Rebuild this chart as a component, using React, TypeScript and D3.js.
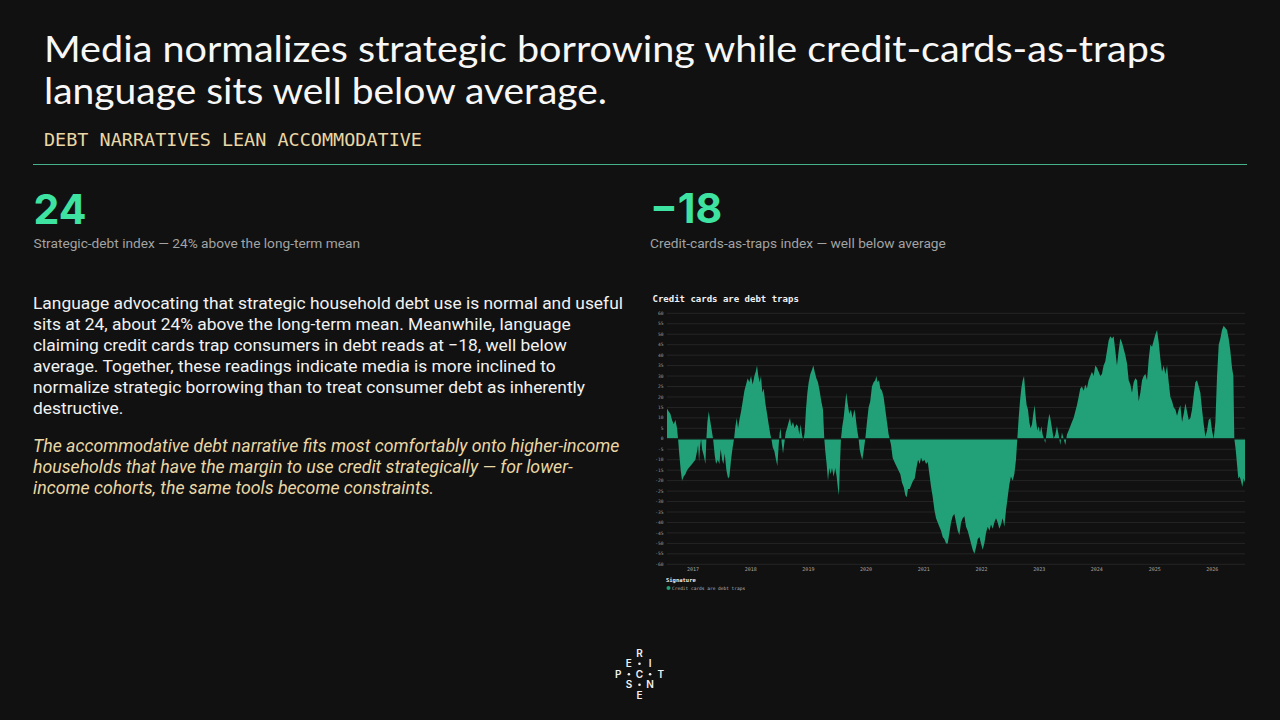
import React from "react";
import * as d3 from "d3";

// ---- Text content ----
const titleLines = [
  "Media normalizes strategic borrowing while credit-cards-as-traps",
  "language sits well below average.",
];
const kicker = "DEBT NARRATIVES LEAN ACCOMMODATIVE";
const statValues = ["24", "\u221218"];
const statLabels = [
  "Strategic-debt index \u2014 24% above the long-term mean",
  "Credit-cards-as-traps index \u2014 well below average",
];
const bodyLines = [
  "Language advocating that strategic household debt use is normal and useful",
  "sits at 24, about 24% above the long-term mean. Meanwhile, language",
  "claiming credit cards trap consumers in debt reads at \u221218, well below",
  "average. Together, these readings indicate media is more inclined to",
  "normalize strategic borrowing than to treat consumer debt as inherently",
  "destructive.",
];
const noteLines = [
  "The accommodative debt narrative fits most comfortably onto higher-income",
  "households that have the margin to use credit strategically \u2014 for lower-",
  "income cohorts, the same tools become constraints.",
];
const chartTitle = "Credit cards are debt traps";
const legendTitle = "Signature";
const seriesName = "Credit cards are debt traps";

// ---- Chart data (decimal years, index values) ----
const years = [
  2016.549, 2016.578, 2016.607, 2016.636, 2016.665, 2016.694, 2016.723, 2016.74, 2016.763, 2016.786,
  2016.809, 2016.838, 2016.867, 2016.896, 2016.925, 2016.954, 2016.983, 2017.012, 2017.04, 2017.069,
  2017.087, 2017.104, 2017.121, 2017.139, 2017.156, 2017.185, 2017.214, 2017.231, 2017.248, 2017.272,
  2017.295, 2017.318, 2017.347, 2017.376, 2017.399, 2017.428, 2017.456, 2017.479, 2017.503, 2017.526,
  2017.549, 2017.578, 2017.607, 2017.63, 2017.659, 2017.687, 2017.711, 2017.734, 2017.757, 2017.78,
  2017.803, 2017.832, 2017.861, 2017.89, 2017.919, 2017.947, 2017.976, 2018.005, 2018.034, 2018.063,
  2018.086, 2018.109, 2018.132, 2018.155, 2018.178, 2018.202, 2018.225, 2018.254, 2018.283, 2018.311,
  2018.34, 2018.358, 2018.381, 2018.41, 2018.438, 2018.462, 2018.485, 2018.502, 2018.519, 2018.537,
  2018.56, 2018.583, 2018.606, 2018.629, 2018.658, 2018.681, 2018.704, 2018.733, 2018.762, 2018.791,
  2018.82, 2018.843, 2018.866, 2018.889, 2018.912, 2018.935, 2018.958, 2018.982, 2019.005, 2019.034,
  2019.062, 2019.086, 2019.109, 2019.138, 2019.166, 2019.195, 2019.224, 2019.253, 2019.276, 2019.293,
  2019.316, 2019.34, 2019.363, 2019.386, 2019.409, 2019.438, 2019.467, 2019.49, 2019.513, 2019.53,
  2019.548, 2019.565, 2019.588, 2019.611, 2019.634, 2019.657, 2019.681, 2019.709, 2019.738, 2019.767,
  2019.796, 2019.813, 2019.842, 2019.871, 2019.889, 2019.912, 2019.935, 2019.958, 2019.987, 2020.016,
  2020.044, 2020.073, 2020.102, 2020.131, 2020.16, 2020.177, 2020.2, 2020.224, 2020.247, 2020.276,
  2020.304, 2020.333, 2020.362, 2020.391, 2020.408, 2020.432, 2020.46, 2020.489, 2020.524, 2020.559,
  2020.593, 2020.622, 2020.651, 2020.68, 2020.703, 2020.726, 2020.755, 2020.784, 2020.813, 2020.842,
  2020.871, 2020.9, 2020.928, 2020.951, 2020.98, 2021.009, 2021.038, 2021.067, 2021.096, 2021.125,
  2021.154, 2021.183, 2021.211, 2021.24, 2021.269, 2021.298, 2021.327, 2021.356, 2021.385, 2021.414,
  2021.443, 2021.471, 2021.5, 2021.529, 2021.558, 2021.587, 2021.616, 2021.645, 2021.674, 2021.703,
  2021.731, 2021.76, 2021.789, 2021.818, 2021.847, 2021.876, 2021.905, 2021.934, 2021.963, 2021.991,
  2022.02, 2022.049, 2022.078, 2022.107, 2022.136, 2022.165, 2022.194, 2022.222, 2022.251, 2022.28,
  2022.309, 2022.338, 2022.367, 2022.396, 2022.425, 2022.454, 2022.482, 2022.511, 2022.54, 2022.569,
  2022.598, 2022.621, 2022.644, 2022.667, 2022.69, 2022.714, 2022.737, 2022.76, 2022.783, 2022.806,
  2022.829, 2022.852, 2022.875, 2022.898, 2022.921, 2022.945, 2022.968, 2022.991, 2023.014, 2023.037,
  2023.06, 2023.083, 2023.106, 2023.129, 2023.152, 2023.176, 2023.193, 2023.222, 2023.251, 2023.28,
  2023.308, 2023.337, 2023.366, 2023.395, 2023.424, 2023.453, 2023.482, 2023.511, 2023.54, 2023.568,
  2023.597, 2023.626, 2023.655, 2023.684, 2023.713, 2023.742, 2023.771, 2023.8, 2023.828, 2023.857,
  2023.886, 2023.915, 2023.944, 2023.973, 2024.002, 2024.031, 2024.06, 2024.088, 2024.117, 2024.146,
  2024.175, 2024.204, 2024.233, 2024.262, 2024.291, 2024.32, 2024.348, 2024.377, 2024.406, 2024.435,
  2024.464, 2024.493, 2024.522, 2024.551, 2024.58, 2024.608, 2024.637, 2024.666, 2024.695, 2024.724,
  2024.753, 2024.782, 2024.811, 2024.84, 2024.868, 2024.897, 2024.926, 2024.955, 2024.984, 2025.013,
  2025.042, 2025.071, 2025.1, 2025.128, 2025.157, 2025.186, 2025.215, 2025.244, 2025.273, 2025.302,
  2025.331, 2025.36, 2025.388, 2025.417, 2025.446, 2025.475, 2025.504, 2025.533, 2025.562, 2025.591,
  2025.62, 2025.648, 2025.677, 2025.706, 2025.735, 2025.764, 2025.793, 2025.822, 2025.851, 2025.88,
  2025.908, 2025.937, 2025.966, 2025.995, 2026.024, 2026.053, 2026.082, 2026.111, 2026.14, 2026.168,
  2026.197, 2026.226, 2026.255, 2026.284, 2026.313, 2026.342, 2026.365, 2026.382, 2026.405, 2026.428,
  2026.451, 2026.474, 2026.497, 2026.52, 2026.544, 2026.567,
];
const values = [
  14.5, 13, 12, 9, 7, 9, 5, 0, -8, -15,
  -20, -18, -17, -15, -14, -13, -12, -11, -10, -6,
  -3, -11, -4, 0, -5, -8, -12, 0, 8, 13,
  9, 5, 0, -8, -12, -10, -12, -5, -10, -12,
  -7, -15, -19, -18, -10, -4, 0, 6, 10, 5,
  9, 13, 18, 23, 26, 29, 27, 30, 26, 30,
  32, 35, 30, 27, 30, 22, 24, 17, 12, 7,
  2, 0, -4, -6, -10, -13, -3, 3, 5, -2,
  -7, -2, 3, 5, 8, 10, 6, 8, 5, 7,
  6, 2, 7, 2, -1, 3, 14, 22, 27, 31,
  33, 35, 32, 29, 27, 23, 18, 14, 0, -6,
  -12, -20, -14, -17, -14, -18, -14, -18, -24, -27,
  -12, 0, 6, 10, 16, 22, 17, 12, 14, 10,
  14, 12, 5, 0, -5, -8, -10, -6, 0, 8,
  15, 18, 25, 27, 28, 30, 27, 28, 24, 23,
  20, 14, 8, 2, 0, -3, -9, -11, -13, -15,
  -17, -21, -23, -27, -28, -24, -24, -22, -20, -19,
  -14, -10, -12, -9, -11, -10, -12, -11, -17, -23,
  -28, -34, -38, -40, -42, -44, -47, -48, -50, -50,
  -45, -40, -37, -36, -40, -44, -46, -40, -38, -37,
  -42, -44, -47, -50, -53, -55, -52, -48, -47, -50,
  -53, -50, -45, -42, -44, -41, -43, -40, -38, -40,
  -43, -41, -38, -42, -34, -28, -22, -18, -20, -17,
  -10, 0, 10, 18, 24, 28, 30, 22, 16, 14,
  8, 5, 7, 12, 16, 9, 4, 6, 3, 6,
  2, 0, -2, 3, 8, 12, 10, 5, 0, 2,
  6, 2, -3, 3, 0, -3, 2, 4, 6, 8,
  10, 13, 16, 20, 24, 25, 23, 26, 24, 28,
  30, 32, 30, 35, 34, 32, 30, 31, 35, 37,
  42, 47, 49, 48, 49, 42, 35, 42, 48, 46,
  43, 40, 36, 28, 26, 22, 27, 29, 28, 18,
  22, 28, 30, 31, 28, 38, 45, 44, 47, 50,
  52, 46, 38, 32, 35, 31, 35, 27, 20, 18,
  15, 14, 11, 14, 16, 8, 12, 17, 13, 9,
  10, 14, 21, 27, 28, 25, 22, 14, 7, 1,
  4, 9, 10, 4, 0, 8, 30, 45, 48, 52,
  54, 53, 52, 48, 42, 34, 30, 0, -5, -12,
  -19, -18, -20, -23, -19, -21,
];
const yDomain = [-60, 60];
const yTickStep = 5;

const logoRows = [
  ["", "", "R", "", ""],
  ["", "E", "\u2022", "I", ""],
  ["P", "\u2022", "C", "\u2022", "T"],
  ["", "S", "\u2022", "N", ""],
  ["", "", "E", "", ""],
];

// ---- Styles ----
const BG = "#111111";
const GREEN = "#22a077";
const MINT = "#3ee3a2";
const TAN = "#e9d7a6";
const SANS = "Roboto, 'Noto Sans', sans-serif";
const MONO = "'DejaVu Sans Mono', 'Liberation Mono', monospace";

function toDate(t: number): Date {
  const y = Math.floor(t);
  const s = Date.UTC(y, 0, 1);
  const e = Date.UTC(y + 1, 0, 1);
  return new Date(s + (t - y) * (e - s));
}

export default function App() {
  const data = years.map((t, i) => ({ date: toDate(t), value: values[i] }));

  const plot = { left: 667, right: 1245, top: 313.3, bottom: 564.3 };
  const x = d3
    .scaleUtc()
    .domain(d3.extent(data, (d) => d.date) as [Date, Date])
    .range([plot.left, plot.right]);
  const y = d3.scaleLinear().domain(yDomain).range([plot.bottom, plot.top]);

  const area = d3
    .area<{ date: Date; value: number }>()
    .x((d) => x(d.date))
    .y0(y(0))
    .y1((d) => y(d.value));

  const yTicks = d3.range(yDomain[0], yDomain[1] + 0.001, yTickStep);
  const xTicks = x.ticks(d3.utcYear.every(1) as any);

  return (
    <svg
      width={1280}
      height={720}
      style={{ position: "absolute", left: 0, top: 0, display: "block" }}
    >
      <rect x={0} y={0} width={1280} height={720} fill={BG} />

      {/* Title */}
      <g fontFamily="Lato, 'Open Sans', sans-serif" fill="#f7f7f7" fontSize={37}>
        <text x={44} y={62} textLength={1122} lengthAdjust="spacingAndGlyphs">
          {titleLines[0]}
        </text>
        <text x={44} y={103.5} textLength={563} lengthAdjust="spacingAndGlyphs">
          {titleLines[1]}
        </text>
      </g>
      <text
        x={44}
        y={146}
        fontFamily={MONO}
        fontSize={18}
        fill={TAN}
        textLength={378}
        lengthAdjust="spacingAndGlyphs"
      >
        {kicker}
      </text>
      <line x1={33} x2={1247} y1={164.5} y2={164.5} stroke="#4fcfa2" strokeOpacity={0.85} strokeWidth={1} />

      {/* Stats */}
      <g fontFamily="Inter, Roboto, sans-serif" fontWeight={700} fontSize={41} fill={MINT}>
        <text x={33.5} y={224}>{statValues[0]}</text>
        <text x={650} y={223}>{statValues[1]}</text>
      </g>
      <g fontFamily={SANS} fontSize={13.7} fill="#a3a3a3">
        <text x={33.5} y={247.5}>{statLabels[0]}</text>
        <text x={650} y={247.5}>{statLabels[1]}</text>
      </g>

      {/* Body */}
      <g fontFamily={SANS} fontSize={17.4} fill="#f2f2f2">
        {bodyLines.map((l, i) => (
          <text key={i} x={33} y={309 + i * 21}>
            {l}
          </text>
        ))}
      </g>
      <g fontFamily={SANS} fontSize={17.7} fill={TAN} fontStyle="italic">
        {noteLines.map((l, i) => (
          <text key={i} x={33} y={452 + i * 21}>
            {l}
          </text>
        ))}
      </g>

      {/* Chart */}
      <text x={652.5} y={302} fontFamily={MONO} fontWeight={700} fontSize={9} fill="#f2f2f2">
        {chartTitle}
      </text>
      <g>
        {yTicks.map((t) => (
          <g key={t}>
            <line x1={plot.left} x2={plot.right} y1={y(t)} y2={y(t)} stroke="#252525" strokeWidth={1} />
            <text
              x={663.5}
              y={y(t)}
              dy="0.35em"
              textAnchor="end"
              fontFamily={MONO}
              fontSize={4.6}
              fill="#9a9a9a"
            >
              {t}
            </text>
          </g>
        ))}
      </g>
      <path d={area(data) || ""} fill={GREEN} />
      <line x1={plot.left} x2={plot.right} y1={y(0)} y2={y(0)} stroke={BG} strokeWidth={1.2} />
      {xTicks.map((t) => (
        <text
          key={t.getTime()}
          x={x(t)}
          y={571}
          textAnchor="middle"
          fontFamily={MONO}
          fontSize={5}
          fill="#a8a8a8"
        >
          {d3.utcFormat("%Y")(t)}
        </text>
      ))}
      <text x={666} y={581.5} fontFamily={MONO} fontWeight={700} fontSize={5.5} fill="#eeeeee">
        {legendTitle}
      </text>
      <circle cx={668.5} cy={588} r={2} fill={GREEN} />
      <text x={672} y={590} fontFamily={MONO} fontSize={4.5} fill="#b5b5b5">
        {seriesName}
      </text>

      {/* Logo */}
      <g fontFamily="Inter, Roboto, sans-serif" fontWeight={600} fill="#f2f2f2" textAnchor="middle">
        {logoRows.map((row, r) =>
          row.map((ch, c) =>
            ch === "" ? null : ch === "\u2022" ? (
              <circle key={`${r}-${c}`} cx={618.3 + c * 10.6} cy={653.3 + r * 10.5} r={1.3} fill="#f2f2f2" />
            ) : (
              <text key={`${r}-${c}`} x={618.3 + c * 10.6} y={653.3 + r * 10.5} dy="0.36em" fontSize={10}>
                {ch}
              </text>
            )
          )
        )}
      </g>
    </svg>
  );
}
